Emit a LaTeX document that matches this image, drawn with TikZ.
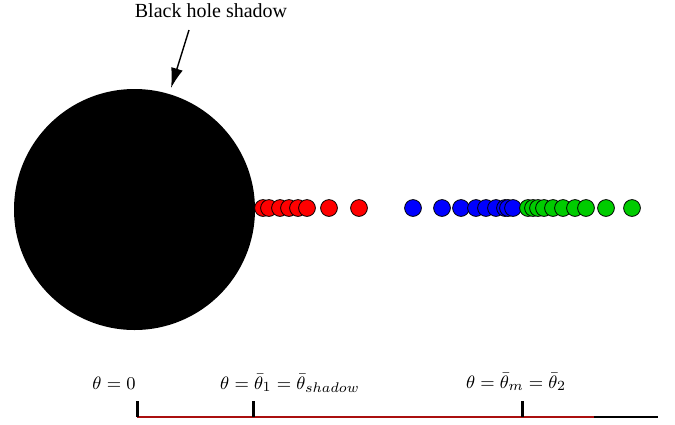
\documentclass[tikz,border=0pt]{standalone}
\usepackage{amsmath, amssymb}
\usepackage{fontspec}
\newfontfamily\timesfont{Liberation Serif}
\usepackage{xcolor}
\usepackage{tikz}
\usetikzlibrary{arrows.meta, calc}

\DeclareMathSizes{9}{9}{7}{5}
\definecolor{dotgreen}{RGB}{0,204,0}
\definecolor{axisred}{RGB}{170,15,15}

\begin{document}
\begin{tikzpicture}[x=0.5pt, y=-0.5pt, >={Latex[length=10pt, width=6pt]},
    dot/.style={circle, draw=black, line width=0.4pt, inner sep=0pt, minimum size=8.4pt},
    marklabel/.style={anchor=base, font=\small}]
    \useasboundingbox (0,0) rectangle (675,424);
    % the shadow and its label
    \node[circle, fill=black, inner sep=0pt, minimum size=120.5pt] (shadow) at (134.5,209.5) {};
    \node[font=\timesfont] (title) at (211,11) {Black hole shadow};
    \coordinate (tail) at (189,30);
    \coordinate (tip) at (171,88);
    \draw[->, line width=0.7pt] (tail) -- (tip);
    % images
    \foreach \x [count=\i] in {263,269,280,289,298,307,329,359}
        \node[dot, fill=red] (r\i) at (\x,208) {};
    \foreach \x [count=\i] in {413,442,461,476,486,496,505,508,513}
        \node[dot, fill=blue] (b\i) at (\x,208) {};
    \foreach \x [count=\i] in {528,533,538,544,553,563,575,586,606,632}
        \node[dot, fill=dotgreen] (g\i) at (\x,208) {};
    % axis
    \coordinate (t0) at (137,416.5);
    \coordinate (t1) at (253,416.5);
    \coordinate (t2) at (522,416.5);
    \coordinate (redend) at (594,416.5);
    \coordinate (axisend) at (658,416.5);
    \draw[axisred, line width=1pt] (t0) -- (redend);
    \draw[line width=1pt] (redend) -- (axisend);
    \foreach \t in {t0,t1,t2}
        \draw[line width=1.5pt] (\t) -- ++(0,-16);
    \node[marklabel] (l0) at (114,389) {$\theta = 0$};
    \node[marklabel] (l1) at (290,389) {$\theta = \bar{\theta}_1 = \bar{\theta}_{shadow}$};
    \node[marklabel] (l2) at (516,388) {$\theta = \bar{\theta}_m = \bar{\theta}_2$};
\end{tikzpicture}
\end{document}
